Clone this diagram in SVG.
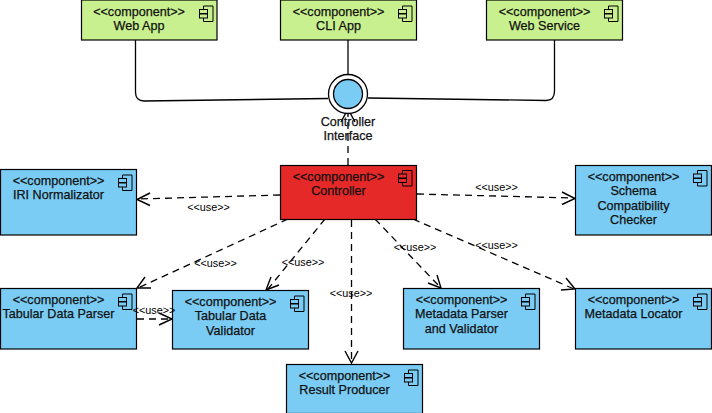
<svg xmlns="http://www.w3.org/2000/svg" width="712" height="413" viewBox="0 0 712 413">
<style>
.b{stroke:#000;stroke-width:1.2}
.g{fill:#c8f08f}.u{fill:#7accf5}.r{fill:#e52828}
text{font-family:"Liberation Sans",Arial,sans-serif;fill:#111}
.t{font-size:12.6px;text-anchor:middle;stroke:#111;stroke-width:.25}
.l{font-size:10.8px;text-anchor:middle;fill:#000}
.i{fill:none;stroke:#000;stroke-width:1}
.c{fill:none;stroke:#000;stroke-width:1.3}
.d{stroke-dasharray:7 5}
.a{fill:none;stroke:#000;stroke-width:1.4}
</style>
<defs>
<g id="ic"><path class="i" d="M4 0H13.500V15.500H4V12M4 7.500V8M4 3.500V0"/><rect class="i" x="0" y="3.500" width="8" height="4"/><rect class="i" x="0" y="8" width="8" height="4"/></g>
</defs>
<g id="connectors">
<path class="c" d="M135.500 40V92Q135.500 101 144 101L328 98.500"/>
<path class="c" d="M348 40V74"/>
<path class="c" d="M554.500 40V91Q554.500 100.500 546 100.500L368 98"/>
<path class="c d" d="M348 165V110"/>
<path class="a" d="M341 122L348 109L355 122"/>
<path class="c d" d="M280 195L138 199"/>
<path class="a" d="M150 193L137 199.500L150 205.500"/>
<path class="c d" d="M417 194L574 198"/>
<path class="a" d="M562 192L575 198.500L562 204.500"/>
<path class="c d" d="M288 219L138 288"/>
<path class="a" d="M145 277L137 288L151 288"/>
<path class="c d" d="M325 219L268 289"/>
<path class="a" d="M271 277L266 290L279 285"/>
<path class="c d" d="M351.500 220V362"/>
<path class="a" d="M345 351L351.500 363L358 351"/>
<path class="c d" d="M375 219L440 287"/>
<path class="a" d="M428 283L441 288L437 275"/>
<path class="c d" d="M413 219L574 289"/>
<path class="a" d="M566 278L575 289L561 290"/>
<path class="c d" d="M137 319H171"/>
<path class="a" d="M159 313L172 319L159 325"/>
</g>
<g id="web-app"><rect class="b g" x="81.500" y="0" width="135.500" height="40"/><use href="#ic" x="199.500" y="6"/><text class="t" x="139" y="16">&lt;&lt;component&gt;&gt;</text><text class="t" x="139" y="30">Web App</text></g>
<g id="cli-app"><rect class="b g" x="280.500" y="0" width="136" height="40"/><use href="#ic" x="398.500" y="6"/><text class="t" x="338.500" y="16">&lt;&lt;component&gt;&gt;</text><text class="t" x="338.500" y="30">CLI App</text></g>
<g id="web-service"><rect class="b g" x="486.500" y="0" width="136" height="40"/><use href="#ic" x="604.500" y="6"/><text class="t" x="544.500" y="16">&lt;&lt;component&gt;&gt;</text><text class="t" x="544.500" y="30">Web Service</text></g>
<g id="controller-interface"><circle cx="348" cy="94" r="19.500" fill="#fff" stroke="#000" stroke-width="1.300"/><circle cx="348" cy="94" r="14.500" class="u" stroke="#000" stroke-width="1.300"/><text class="t" x="348" y="126">Controller</text><text class="t" x="348" y="140">Interface</text></g>
<g id="controller"><rect class="b r" x="280.500" y="165.500" width="136" height="54"/><use href="#ic" x="398.500" y="170.500"/><text class="t" x="338.500" y="181">&lt;&lt;component&gt;&gt;</text><text class="t" x="338.500" y="195">Controller</text></g>
<g id="iri-normalizator"><rect class="b u" x="0.500" y="169.500" width="136" height="65.500"/><use href="#ic" x="118.500" y="175"/><text class="t" x="58.500" y="185">&lt;&lt;component&gt;&gt;</text><text class="t" x="58.500" y="199">IRI Normalizator</text></g>
<g id="schema-checker"><rect class="b u" x="575.500" y="165.500" width="136" height="69.500"/><use href="#ic" x="693.500" y="170.500"/><text class="t" x="633.500" y="181">&lt;&lt;component&gt;&gt;</text><text class="t" x="633.500" y="195">Schema</text><text class="t" x="633.500" y="210">Compatibility</text><text class="t" x="633.500" y="224">Checker</text></g>
<g id="tabular-parser"><rect class="b u" x="0.500" y="288.500" width="136" height="60.500"/><use href="#ic" x="118.500" y="294"/><text class="t" x="58.500" y="304">&lt;&lt;component&gt;&gt;</text><text class="t" x="58.500" y="318">Tabular Data Parser</text></g>
<g id="tabular-validator"><rect class="b u" x="172.500" y="290.500" width="136" height="58.500"/><use href="#ic" x="290.500" y="296"/><text class="t" x="230.500" y="306">&lt;&lt;component&gt;&gt;</text><text class="t" x="230.500" y="320">Tabular Data</text><text class="t" x="230.500" y="335">Validator</text></g>
<g id="metadata-parser"><rect class="b u" x="403.500" y="288.500" width="136" height="60.500"/><use href="#ic" x="521.500" y="294"/><text class="t" x="461.500" y="304">&lt;&lt;component&gt;&gt;</text><text class="t" x="461.500" y="318">Metadata Parser</text><text class="t" x="461.500" y="333">and Validator</text></g>
<g id="metadata-locator"><rect class="b u" x="575.500" y="288.500" width="136" height="60.500"/><use href="#ic" x="693.500" y="294"/><text class="t" x="633.500" y="304">&lt;&lt;component&gt;&gt;</text><text class="t" x="633.500" y="318">Metadata Locator</text></g>
<g id="result-producer"><rect class="b u" x="286.500" y="364.500" width="136" height="49"/><use href="#ic" x="404.500" y="370"/><text class="t" x="344.500" y="380">&lt;&lt;component&gt;&gt;</text><text class="t" x="344.500" y="394">Result Producer</text></g>
<g id="labels">
<text class="l" x="208.500" y="211">&lt;&lt;use&gt;&gt;</text>
<text class="l" x="496.500" y="191">&lt;&lt;use&gt;&gt;</text>
<text class="l" x="215.500" y="267">&lt;&lt;use&gt;&gt;</text>
<text class="l" x="303" y="266">&lt;&lt;use&gt;&gt;</text>
<text class="l" x="415" y="251">&lt;&lt;use&gt;&gt;</text>
<text class="l" x="496.500" y="249">&lt;&lt;use&gt;&gt;</text>
<text class="l" x="351" y="297">&lt;&lt;use&gt;&gt;</text>
<text class="l" x="154" y="314">&lt;&lt;use&gt;&gt;</text>
</g>
</svg>
